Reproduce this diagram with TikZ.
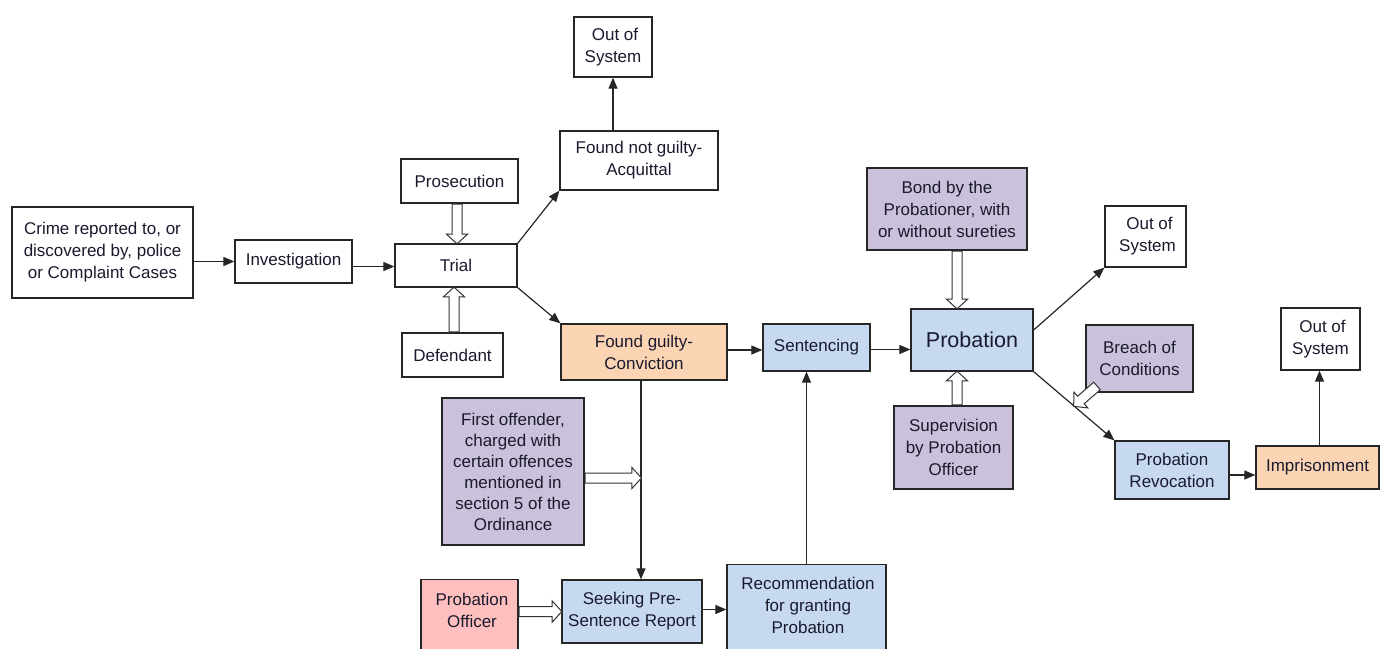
\documentclass[tikz,border=0pt]{standalone}
\usepackage{fontspec}
\setmainfont{Liberation Sans}
\usetikzlibrary{arrows.meta,shapes.arrows,calc}
\definecolor{peach}{HTML}{FBD4B4}
\definecolor{lblue}{HTML}{C6D9F1}
\definecolor{lpurple}{HTML}{CCC1DA}
\definecolor{lpink}{HTML}{FFBFBF}
\definecolor{ink}{HTML}{1A1A2E}
\newcommand\hollowarrow[2]{%
  \path let \p1=(#1), \p2=(#2), \n1={atan2(\y2-\y1,\x2-\x1)}, \n2={veclen(\x2-\x1,\y2-\y1)} in
    node[hollow, minimum height=\n2, rotate=\n1, anchor=tail] at (\p1) {};}
\begin{document}
\begin{tikzpicture}[x=1pt,y=-1pt,
  box/.style={draw=black!85, line width=1.3pt, fill=white, align=center, inner sep=1pt,
    text=ink, font=\fontsize{17}{22}\selectfont},
  peachbox/.style={box, fill=peach},
  bluebox/.style={box, fill=lblue},
  purplebox/.style={box, fill=lpurple},
  pinkbox/.style={box, fill=lpink},
  txt/.style={align=center, inner sep=0pt, text=ink, font=\fontsize{17}{22}\selectfont},
  arr/.style={draw=black!85, line width=1.2pt, -{Triangle[length=11pt,width=9pt]}},
  hollow/.style={single arrow, draw=black!80, fill=white, line width=1pt, inner xsep=0pt, inner ysep=4.5pt,
    minimum width=20pt, single arrow head extend=5.5pt, single arrow tip angle=95},
]
\useasboundingbox (0,0) rectangle (1380,648);
\clip (0,0) rectangle (1380,648);

% nodes
\node[box, minimum width=181, minimum height=91] (crime) at (102.5,252.5) {Crime reported to, or\\discovered by, police\\or Complaint Cases};
\node[box, minimum width=117, minimum height=43] (inv) at (293.5,261.5) {Investigation};
\node[box, minimum width=122, minimum height=43] (trial) at (456,265.5) {Trial};
\node[box, minimum width=117, minimum height=44] (pros) at (459.5,181) {Prosecution};
\node[box, minimum width=101, minimum height=44] (def) at (452.5,355) {Defendant};
\node[box, minimum width=158, minimum height=59] (notg) at (639,160.5) {Found not guilty-\\Acquittal};
\node[box, minimum width=78, minimum height=60] (out1) at (613,47) {\hspace*{4pt}Out of\\System};
\node[peachbox, minimum width=166, minimum height=56] (guilty) at (644,352) {Found guilty-\\Conviction};
\node[bluebox, minimum width=107, minimum height=47] (sent) at (816.5,347.5) {Sentencing};
\node[bluebox, minimum width=122, minimum height=62, font=\fontsize{21.5}{26}\selectfont] (prob) at (972,340) {Probation};
\node[purplebox, minimum width=160, minimum height=82] (bond) at (947,209) {Bond by the\\Probationer, with\\or without sureties};
\node[purplebox, minimum width=119, minimum height=83] (sup) at (953.5,447.5) {Supervision\\by Probation\\Officer};
\node[box, minimum width=81, minimum height=61] (out2) at (1145.5,236.5) {\hspace*{8pt}Out of\\\hspace*{4pt}System};
\node[purplebox, minimum width=107, minimum height=67] (breach) at (1139.5,358.5) {Breach of\\Conditions};
\node[bluebox, minimum width=114, minimum height=58] (rev) at (1172,470) {Probation\\Revocation};
\node[peachbox, minimum width=123, minimum height=43] (imp) at (1317.5,467.5) {Imprisonment};
\node[box, minimum width=79, minimum height=62] (out3) at (1320.5,339) {\hspace*{4pt}Out of\\System};
\node[purplebox, minimum width=142, minimum height=147, font=\fontsize{17}{21}\selectfont] (first) at (513,471.5) {First offender,\\charged with\\certain offences\\mentioned in\\section 5 of the\\Ordinance};
\node[pinkbox, minimum width=97, minimum height=100, anchor=north] (off) at (469.5,579) {};
\node[txt] (offt) at (472,610.5) {Probation\\Officer};
\node[bluebox, minimum width=140, minimum height=63] (seek) at (632,611.5) {Seeking Pre-\\Sentence Report};
\node[bluebox, minimum width=159, minimum height=100, anchor=north] (rec) at (806.5,564) {};
\node[txt] (rect) at (808,605) {Recommendation\\for granting\\Probation};

% helper coordinates
\coordinate (gd) at ([xshift=-3]guilty.south);
\coordinate (ha) at ([xshift=1]trial.north);
\coordinate (hb) at ([xshift=-2]trial.south);
\coordinate (hc) at ([yshift=-6.5]first.east);
\coordinate (he) at ([xshift=-15]prob.north);
\coordinate (hf) at ([xshift=-15]prob.south);
\coordinate (bs) at ([xshift=12,yshift=7]breach.south west);
\coordinate (bt) at ($(prob.south east)!0.5!(rev.north west)$);

% connectors
\draw[arr] (crime.east |- inv) -- (inv.west);
\draw[arr] ([yshift=-5]inv.east) -- ([yshift=-5]inv.east -| trial.west);
\draw[arr] (trial.north east) -- (notg.south west);
\draw[arr] (trial.south east) -- (guilty.north west);
\draw[arr] (out1.south |- notg.north) -- (out1.south);
\draw[arr] ([yshift=2]guilty.east) -- ([yshift=2]guilty.east -| sent.west);
\draw[arr] (gd) -- (gd |- seek.north);
\draw[arr] ([yshift=2]seek.east) -- ([yshift=2]seek.east -| rec.west);
\draw[arr] (rec.north) -- (rec.north |- sent.south);
\draw[arr] ([yshift=-2]sent.east) -- ([yshift=-2]sent.east -| prob.west);
\draw[arr] ([yshift=10]prob.east) -- (out2.south west);
\draw[arr] (prob.south east) -- (rev.north west);
\draw[arr] ([yshift=-5]rev.east) -- ([yshift=-5]rev.east -| imp.west);
\draw[arr] ([xshift=2]imp.north) -- ([xshift=2]imp.north |- out3.south);

% hollow arrows
\hollowarrow{ha |- pros.south}{ha}
\hollowarrow{hb |- def.north}{hb}
\hollowarrow{hc}{gd |- hc}
\hollowarrow{off.east |- seek.west}{seek.west}
\hollowarrow{he |- bond.south}{he}
\hollowarrow{hf |- sup.north}{hf}
\hollowarrow{bs}{bt}
\end{tikzpicture}
\end{document}
